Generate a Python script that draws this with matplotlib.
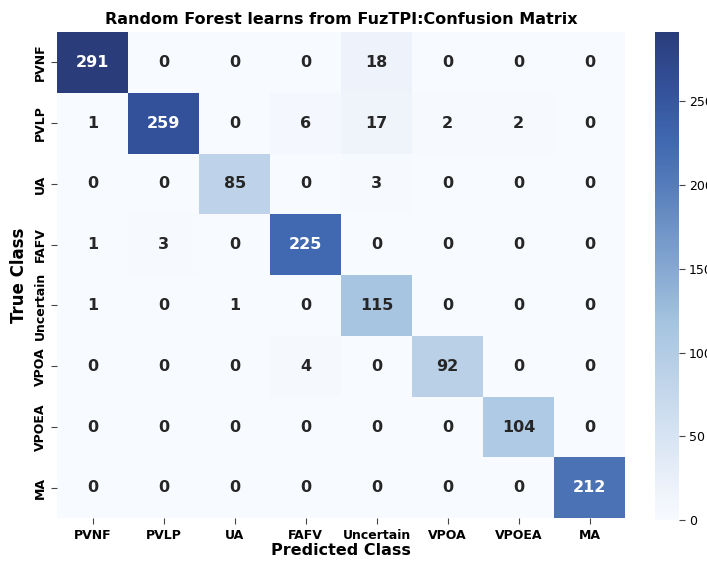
import matplotlib
matplotlib.use('Agg')
import matplotlib.pyplot as plt
from matplotlib.colors import LinearSegmentedColormap
import numpy as np
import seaborn as sns

classes = ['PVNF', 'PVLP', 'UA', 'FAFV', 'Uncertain', 'VPOA', 'VPOEA', 'MA']
cm = np.array([
    [291, 0, 0, 0, 18, 0, 0, 0],
    [1, 259, 0, 6, 17, 2, 2, 0],
    [0, 0, 85, 0, 3, 0, 0, 0],
    [1, 3, 0, 225, 0, 0, 0, 0],
    [1, 0, 1, 0, 115, 0, 0, 0],
    [0, 0, 0, 4, 0, 92, 0, 0],
    [0, 0, 0, 0, 0, 0, 104, 0],
    [0, 0, 0, 0, 0, 0, 0, 212],
])
cbar_ticks = [0, 50, 100, 150, 200, 250]

# washed-out Blues
cmap = LinearSegmentedColormap.from_list('blues_soft', [
    (0.00, '#f7faff'), (0.06, '#eef3fb'), (0.29, '#bed3e9'), (0.40, '#a6c5e0'),
    (0.73, '#4a72b5'), (0.78, '#4068b0'), (0.89, '#33509a'), (1.00, '#2a3d7a')])

fig = plt.figure(figsize=(7.07, 5.62), dpi=100)
ax = fig.add_axes([0.081, 0.078, 0.803, 0.865])
cax = fig.add_axes([0.926, 0.074, 0.034, 0.869])

sns.heatmap(cm, annot=True, fmt='d', cmap=cmap, vmin=0, vmax=cm.max(),
            ax=ax, cbar_ax=cax, annot_kws={'fontsize': 11.5, 'fontweight': 'bold'},
            xticklabels=classes, yticklabels=classes)

ax.set_title('Random Forest learns from FuzTPI:Confusion Matrix',
             fontsize=11.5, fontweight='bold', pad=6)
ax.set_xlabel('Predicted Class', fontsize=11.5, fontweight='bold', labelpad=1)
ax.set_ylabel('True Class', fontsize=12, fontweight='bold', labelpad=4)
ax.set_xticklabels(classes, fontsize=9, fontweight='bold', rotation=0)
ax.set_yticklabels(classes, fontsize=9, fontweight='bold', rotation=90, va='center')
ax.tick_params(length=4, width=0.8, color='#444444')
cax.tick_params(labelsize=9, length=4, width=0.8, color='#444444')
cax.set_yticks(cbar_ticks)

fig.savefig('out.png', dpi=100)
